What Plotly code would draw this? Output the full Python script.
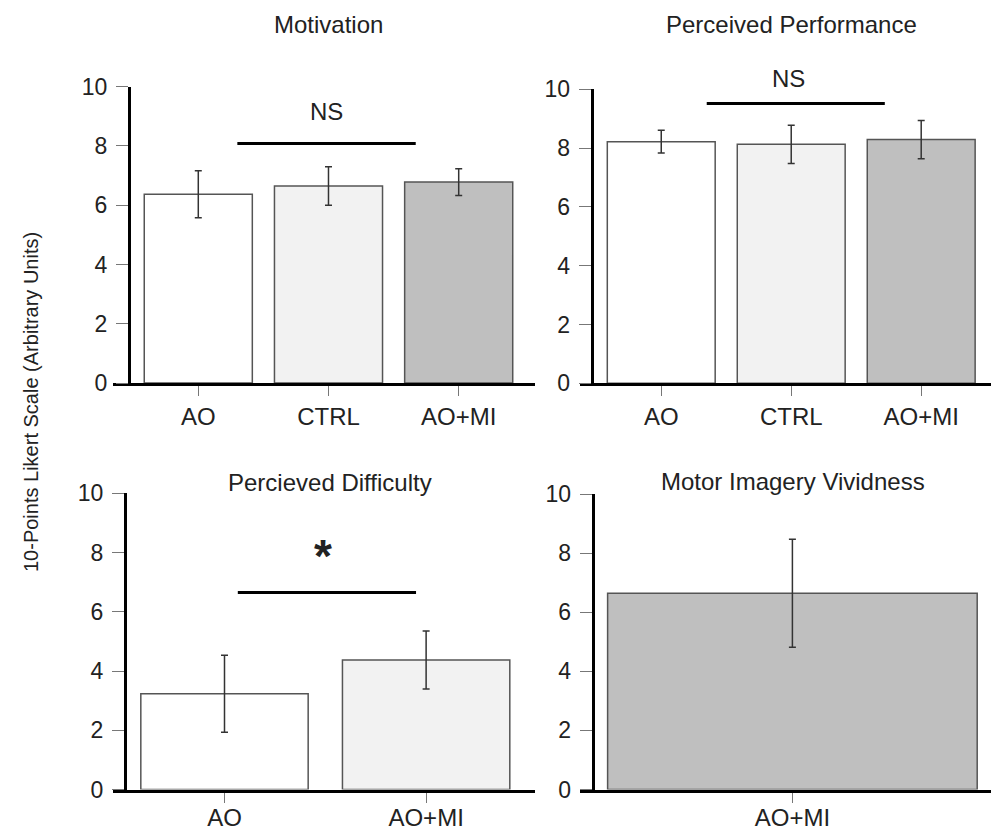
import plotly.graph_objects as go

W, H = 991, 830

# ---- data ----
groups3 = ["AO", "CTRL", "AO+MI"]
groups2 = ["AO", "AO+MI"]
groups1 = ["AO+MI"]

motivation_mean = [6.37, 6.65, 6.78]
motivation_err = [0.79, 0.65, 0.45]

performance_mean = [8.22, 8.13, 8.29]
performance_err = [0.39, 0.65, 0.65]

difficulty_mean = [3.23, 4.37]
difficulty_err = [1.30, 0.98]

vividness_mean = [6.64]
vividness_err = [1.83]

colors3 = ["#ffffff", "#f2f2f2", "#bfbfbf"]
colors2 = ["#ffffff", "#f2f2f2"]
colors1 = ["#bfbfbf"]

FONT = "Liberation Sans, Arial, sans-serif"
TXT = "#222222"

def px_x(p):
    return p / W

def px_y(p):
    return (H - p) / H

fig = go.Figure()

panels = [
    # (suffix, cats, mean, err, colors, xdomain px, ydomain px (bottom,top), yaxis x px, x range, label standoff)
    ("", groups3, motivation_mean, motivation_err, colors3, (113, 535), (383, 86.7), 129, (-0.655, 2.586), 0),
    ("2", groups3, performance_mean, performance_err, colors3, (580, 991), (383.3, 89.3), 591.7, (-0.625, 2.537), 0),
    ("3", groups2, difficulty_mean, difficulty_err, colors2, (113, 535), (789.5, 493.3), 125, (-0.553, 1.540), -5),
    ("4", groups1, vividness_mean, vividness_err, colors1, (580, 991), (789.5, 494), 592.7, (-0.477, 0.446), -5),
]

layout_axes = {}
for suf, cats, mean, err, cols, xd, yd, ypos, xr, stand in panels:
    xs = list(range(len(cats)))
    fig.add_trace(go.Bar(
        x=xs, y=mean, width=0.83,
        marker=dict(color=cols, line=dict(color="#555555", width=1.5)),
        error_y=dict(type="data", array=err, visible=True, color="#333333",
                     thickness=1.5, width=3.5),
        xaxis="x" + suf, yaxis="y" + suf, showlegend=False, hoverinfo="skip",
    ))
    layout_axes["xaxis" + suf] = dict(
        domain=[px_x(xd[0]), px_x(xd[1])], range=list(xr), automargin=False,
        anchor="y" + suf, showline=True, linecolor="black", linewidth=3,
        showgrid=False, zeroline=False,
        tickmode="array", tickvals=xs, ticktext=cats,
        ticks="outside", ticklen=10, tickwidth=1, tickcolor="#777777",
        ticklabelstandoff=stand,
        tickfont=dict(family=FONT, size=24, color=TXT), fixedrange=True,
    )
    layout_axes["yaxis" + suf] = dict(
        domain=[px_y(yd[0]), px_y(yd[1])], range=[0, 10], automargin=False,
        anchor="free", position=px_x(ypos), showline=True, linecolor="black", linewidth=3,
        showgrid=False, zeroline=False,
        tickmode="array", tickvals=[0, 2, 4, 6, 8, 10],
        ticks="outside", ticklen=12, tickwidth=1, tickcolor="#777777",
        ticklabelstandoff=4,
        tickfont=dict(family=FONT, size=23, color=TXT), fixedrange=True,
    )

fig.update_layout(**layout_axes)

shapes = [
    dict(type="line", xref="x", yref="y", x0=0.30, x1=1.67, y0=8.08, y1=8.08,
         line=dict(color="black", width=3)),
    dict(type="line", xref="x2", yref="y2", x0=0.35, x1=1.72, y0=9.52, y1=9.52,
         line=dict(color="black", width=3)),
    dict(type="line", xref="x3", yref="y3", x0=0.066, x1=0.95, y0=6.65, y1=6.65,
         line=dict(color="black", width=3)),
]

def ann(text, x, y, size=24, **kw):
    d = dict(text=text, x=px_x(x), y=px_y(y), xref="paper", yref="paper",
             showarrow=False, xanchor="center", yanchor="middle",
             font=dict(family=FONT, size=size, color=TXT))
    d.update(kw)
    return d

annotations = [
    ann("Motivation", 328, 24),
    ann("Perceived Performance", 791.7, 24),
    ann("Percieved Difficulty", 330, 482.7),
    ann("Motor Imagery Vividness", 793, 481.7),
    ann("NS", 326.7, 111.7),
    ann("NS", 788, 78.3),
    ann("<b>*</b>", 323.3, 556, size=46),
    ann("10-Points Likert Scale (Arbitrary Units)", 31, 402, size=20, textangle=-90),
]

fig.update_layout(
    width=W, height=H, margin=dict(l=0, r=0, t=0, b=0, autoexpand=False),
    paper_bgcolor="white", plot_bgcolor="rgba(0,0,0,0)",
    shapes=shapes, annotations=annotations, bargap=0, hovermode=False,
)

fig.write_html(
    "out.html",
    config={"displayModeBar": False, "staticPlot": True},
    post_script="document.body.style.margin='0px';document.body.style.overflow='hidden';",
)
